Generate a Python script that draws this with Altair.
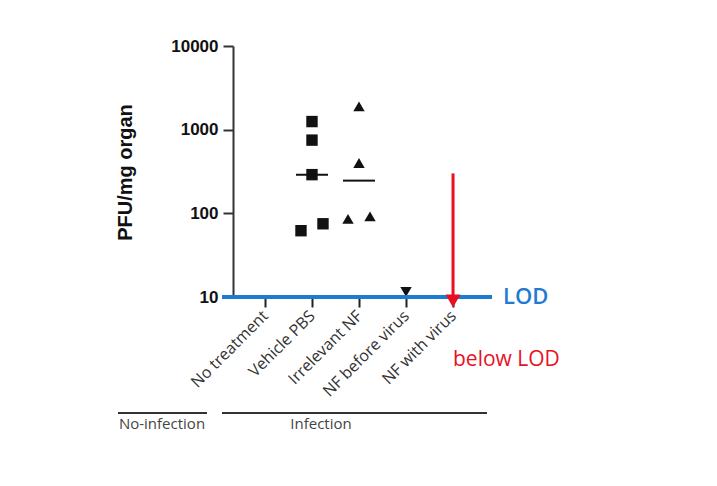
import altair as alt
import pandas as pd

categories = ["No treatment", "Vehicle PBS", "Irrelevant NF", "NF before virus", "NF with virus"]
pbs_values = [1250, 750, 290, 62, 75]
pbs_spread = [0, 0, 0, -1, 1]
irr_values = [1900, 400, 86, 92]
irr_spread = [0, 0, -1, 1]
nfb_values = [11.5]
nfb_spread = [0]
lod_value = 10
arrow_top = 300
y_ticks = [10, 100, 1000, 10000]
group_labels = ["No-infection", "Infection"]

rows = []
for g, vals, spr in [("Vehicle PBS", pbs_values, pbs_spread),
                     ("Irrelevant NF", irr_values, irr_spread),
                     ("NF before virus", nfb_values, nfb_spread)]:
    for v, s in zip(vals, spr):
        rows.append({"group": g, "value": v, "spread": s})
pts = pd.DataFrame(rows)

W, H = 252, 251
BLUE = "#1E7BD2"
RED = "#E8101E"

x = alt.X("group:N",
          scale=alt.Scale(type="point", domain=categories, padding=0.68),
          axis=alt.Axis(domain=False, ticks=True, tickSize=10, tickWidth=2, tickColor="#222",
                        labelAngle=-45, labelAlign="right", labelBaseline="middle",
                        labelFont="Open Sans", labelFontSize=16, labelColor="#333",
                        labelPadding=6, title=None))
y = alt.Y("value:Q",
          scale=alt.Scale(type="log", domain=[10, 10000]),
          axis=alt.Axis(values=y_ticks, format="d", domainWidth=2, domainColor="#333",
                        tickSize=10, tickWidth=2, tickColor="#333", grid=False,
                        labelFont="Liberation Sans", labelFontWeight="bold", labelFontSize=17,
                        labelColor="#111", labelPadding=5,
                        title="PFU/mg organ", titleFont="Liberation Sans", titleFontWeight="bold",
                        titleFontSize=20, titleColor="#111", titleX=-108, titleY=126,
                        titleAlign="center", titleBaseline="middle", titleAngle=-90))

points = alt.Chart(pts).mark_point(filled=True, opacity=1, color="#111", size=130).encode(
    x=x, y=y,
    xOffset=alt.XOffset("spread:Q", scale=alt.Scale(domain=[-1, 1], range=[-11, 11])),
    shape=alt.Shape("group:N",
                    scale=alt.Scale(domain=["Vehicle PBS", "Irrelevant NF", "NF before virus"],
                                    range=["square", "triangle-up", "triangle-down"]),
                    legend=None),
)

medians = alt.Chart(pts).transform_filter(
    alt.FieldOneOfPredicate(field="group", oneOf=["Vehicle PBS", "Irrelevant NF"])
).transform_aggregate(value="median(value)", groupby=["group"]).mark_tick(
    color="#111", size=32, thickness=2, orient="horizontal", opacity=1
).encode(x=x, y=y)

lod = alt.Chart(pd.DataFrame({"value": [lod_value]})).mark_rule(color=BLUE, strokeWidth=4).encode(
    y=y, x=alt.value(-11), x2=alt.value(W + 7))
lod_text = alt.Chart(pd.DataFrame({"value": [lod_value], "t": ["LOD"]})).mark_text(
    align="left", baseline="middle", font="Open Sans", fontSize=22, fontWeight=600, color=BLUE
).encode(y=y, x=alt.value(W + 18), text="t:N")

arrow_df = pd.DataFrame({"group": ["NF with virus"], "value": [arrow_top], "value2": [lod_value]})
arrow = alt.Chart(arrow_df).mark_rule(color=RED, strokeWidth=3).encode(
    x=x, y=y, y2="value2:Q")
head = alt.Chart(pd.DataFrame({"group": ["NF with virus"], "value": [lod_value]})).mark_point(
    shape="triangle-down", filled=True, opacity=1, color=RED, size=220, yOffset=4
).encode(x=x, y=y)
below = alt.Chart(pd.DataFrame({"t": ["below LOD"]})).mark_text(
    align="left", baseline="middle", font="Open Sans", fontSize=21, color=RED
).encode(x=alt.value(220), y=alt.value(314), text="t:N")

grp = pd.DataFrame({"label": group_labels, "x1": [-115, -11], "x2": [-26, 254], "xc": [-71, 88]})
g_lines = []
for _, r in grp.iterrows():
    d = pd.DataFrame([r])
    g_lines.append(alt.Chart(d).mark_rule(color="#333", strokeWidth=2).encode(
        x=alt.value(float(r.x1)), x2=alt.value(float(r.x2)), y=alt.value(367)))
    g_lines.append(alt.Chart(d).mark_text(
        align="center", baseline="middle", font="Open Sans", fontSize=15, color="#444"
    ).encode(x=alt.value(float(r.xc)), y=alt.value(378), text="label:N"))

chart = alt.layer(points, medians, arrow, lod, head, lod_text, below, *g_lines).properties(
    width=W, height=H,
    autosize=alt.AutoSizeParams(type="none"),
    padding={"left": 225, "top": 38, "right": 220, "bottom": 180},
).configure(background="white").configure_view(stroke=None)

chart.save("out.html", embed_options={"renderer": "svg", "actions": False})
